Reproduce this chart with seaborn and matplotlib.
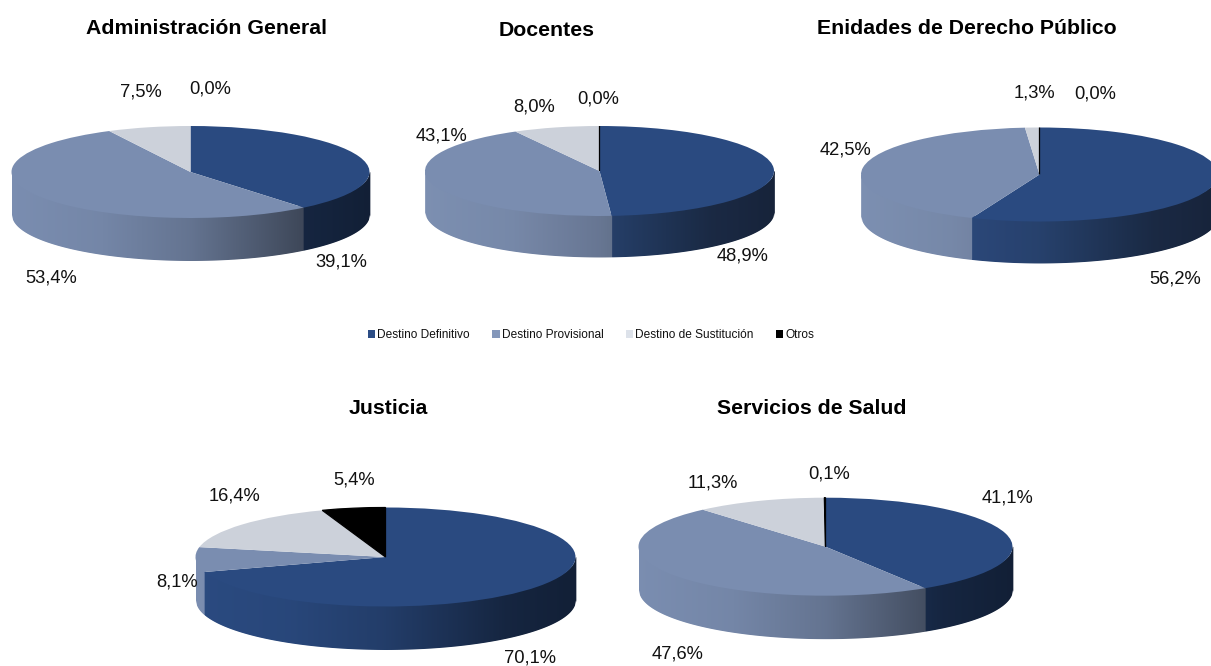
import numpy as np
import matplotlib
matplotlib.use("Agg")
import matplotlib.pyplot as plt
from matplotlib.patches import Patch
import seaborn as sns

# ---- data ----
categories = ["Destino Definitivo", "Destino Provisional", "Destino de Sustitución", "Otros"]
titles = ["Administración General", "Docentes", "Enidades de Derecho Público", "Justicia", "Servicios de Salud"]
admin_general = [39.1, 53.4, 7.5, 0.0]
docentes = [48.9, 43.1, 8.0, 0.0]
entidades = [56.2, 42.5, 1.3, 0.0]
justicia = [70.1, 8.1, 16.4, 5.4]
salud = [41.1, 47.6, 11.3, 0.1]
series = [admin_general, docentes, entidades, justicia, salud]

# ---- style / layout ----
W, H = 1211, 666
sns.set_theme(style="white")
plt.rcParams["font.family"] = ["Liberation Sans", "DejaVu Sans"]
top_colors = sns.color_palette(["#2a4a80", "#7a8db0", "#ccd1da", "#000000"])
legend_colors = sns.color_palette(["#2c4d85", "#8497ba", "#dde2ea", "#000000"])
shade_t = [0.0, 0.25, 0.5, 0.82, 1.0]
shade_f = [1.0, 0.95, 0.82, 0.50, 0.42]
otros_line = [0.0, 0.9, 0.9, 0.9, 0.9]

# cx, cy, rx, ry, depth in pixels
geometry = [
    (190.5, 172.0, 179.0, 46.0, 42.5),
    (599.5, 171.0, 174.5, 45.0, 41.0),
    (1039.5, 174.5, 178.5, 47.0, 41.5),
    (385.5, 557.0, 190.0, 49.5, 43.0),
    (825.5, 546.7, 187.0, 49.0, 43.0),
]
title_pos = [(207, 28), (547, 31), (967, 28), (388, 408), (812, 408)]
label_pos = [
    [(341, 262), (51, 278), (141, 92), (210, 89)],
    [(743, 256), (441, 136), (534, 107), (598, 99)],
    [(1175, 279), (846, 150), (1034, 93), (1095, 94)],
    [(530, 658), (177, 582), (234, 496), (354, 480)],
    [(1008, 498), (678, 654), (713, 483), (829, 474)],
]


def fx(px):
    return px / W


def fy(py):
    return 1 - py / H


def fmt(v):
    return f"{v:.1f}%".replace(".", ",")


fig = plt.figure(figsize=(W / 100, H / 100), dpi=100, facecolor="white")

for vals, title, (cx, cy, rx, ry, depth), tpos, lpos, oline in zip(
        series, titles, geometry, title_pos, label_pos, otros_line):
    d = depth / ry
    ax = fig.add_axes([fx(cx - rx), fy(cy + ry + depth), 2 * rx / W, (2 * ry + depth) / H])
    wedges, _ = ax.pie(vals, colors=top_colors, startangle=90, counterclock=False,
                       radius=1, center=(0, 0), wedgeprops={"linewidth": 0})
    for w in wedges:
        w.set_zorder(3)
    # the "Otros" slice stays visible as a thin black line even when it is near zero
    wedges[3].set_edgecolor("black")
    wedges[3].set_linewidth(oline)

    # extruded rim: the front half of the disc, one pixel column at a time, shaded left to right
    cum = np.cumsum(vals) / np.sum(vals)
    xs = np.linspace(-1, 1, int(2 * rx) + 1)
    angles = 360 - np.degrees(np.arccos(xs))
    for x0, x1, a0, a1 in zip(xs[:-1], xs[1:], angles[:-1], angles[1:]):
        mid = 0.5 * (a0 + a1)
        frac = ((90 - mid) % 360) / 360
        idx = min(int(np.searchsorted(cum, frac)), 3)
        y0, y1 = np.sin(np.radians([a0, a1]))
        t = (0.5 * (x0 + x1) + 1) / 2
        col = np.array(top_colors[idx]) * np.interp(t, shade_t, shade_f)
        # the top of each column runs slightly under the lid so no white seam shows
        ax.fill_between([x0, x1], [y0 * 0.94, y1 * 0.94], [y0 - d, y1 - d], color=col, lw=0.5,
                        antialiased=False, zorder=1)
    # smooth lower outline of the rim
    ys = np.sin(np.radians(angles)) - d
    ax.fill_between(xs, ys, -1 - d - 0.2, color="white", lw=0, zorder=2)

    ax.set_aspect("auto")
    ax.set_xlim(-1, 1)
    ax.set_ylim(-1 - d, 1)
    ax.axis("off")

    fig.text(fx(tpos[0]), fy(tpos[1]), title, ha="center", va="center",
             fontsize=15.3, fontweight="bold", color="black")
    for v, (px, py) in zip(vals, lpos):
        fig.text(fx(px), fy(py), fmt(v), ha="center", va="center", fontsize=13.2, color="#111111")

handles = [Patch(facecolor=c, edgecolor="none") for c in legend_colors]
fig.legend(handles, categories, loc="center", bbox_to_anchor=(fx(591), fy(335)), ncol=4,
           frameon=False, fontsize=8.55, handlelength=0.6, handleheight=0.6,
           handletextpad=0.17, columnspacing=1.9, borderpad=0, labelcolor="#111111")

fig.savefig("out.png", dpi=100, facecolor="white")
